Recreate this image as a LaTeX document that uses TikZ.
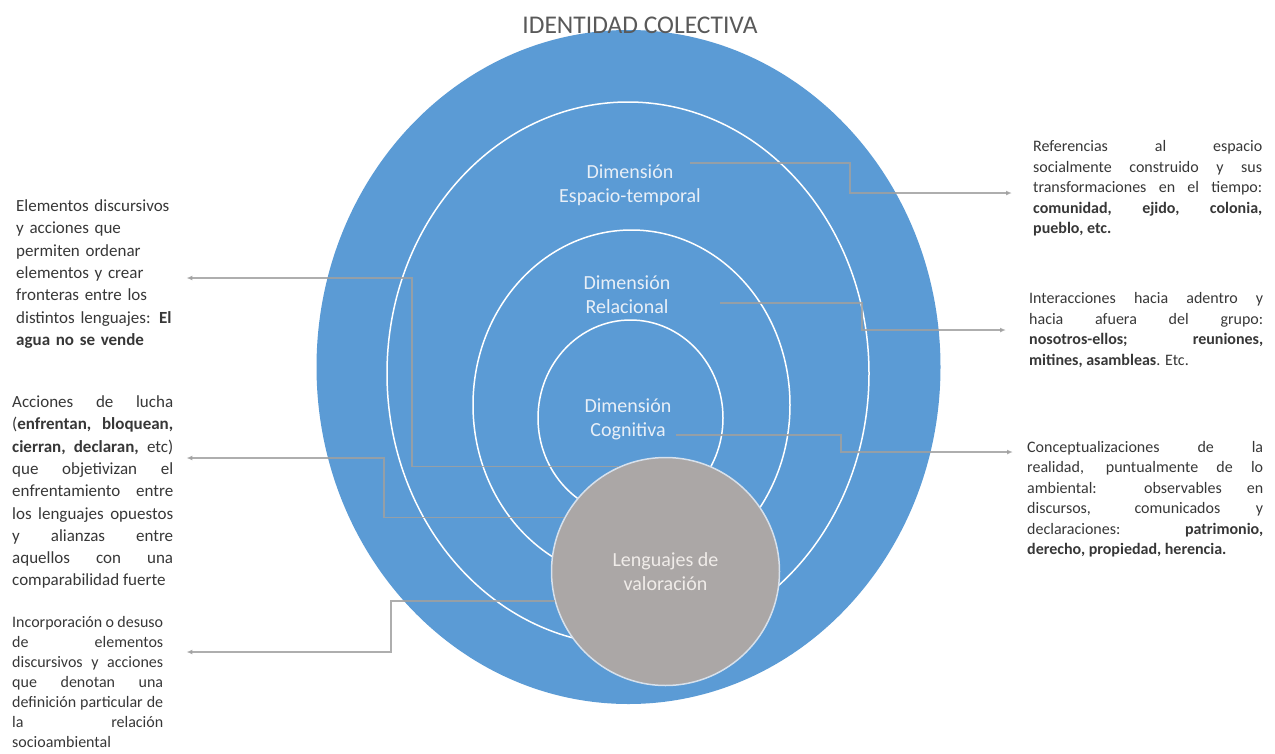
\documentclass[tikz,border=0pt]{standalone}
\usepackage{fontspec}
\setmainfont{Carlito}
\usetikzlibrary{arrows.meta}
\definecolor{ringblue}{RGB}{91,155,213}
\definecolor{langgray}{RGB}{171,167,166}
\definecolor{linegray}{RGB}{160,160,160}
\definecolor{textgray}{RGB}{55,55,55}
\definecolor{titlegray}{RGB}{89,89,89}
\definecolor{labelwhite}{RGB}{232,239,247}
\tolerance=10000
\hbadness=10000
\hyphenpenalty=10000

\begin{document}
\begin{tikzpicture}[x=1pt,y=1pt,
  ring/.style={draw=white, line width=1.5pt},
  dimlabel/.style={align=center, text=labelwhite, font=\fontsize{20}{24}\selectfont},
  desc/.style={anchor=base west, align=justify, text=textgray, font=\fontsize{16}{20.5}\selectfont},
  conn/.style={draw=linegray, opacity=0.85, line width=1.6pt, -{Latex[length=6pt,width=5pt]}}]
\tikzstyle{every node}+=[inner sep=0pt]
\useasboundingbox (0,0) rectangle (1275,-753);
\fill [ringblue] (628.5,-367) ellipse [x radius=312, y radius=337];
\draw [ring] (628,-373.5) ellipse [x radius=241, y radius=271.5];
\draw [ring] (631.5,-405) ellipse [x radius=158.5, y radius=175];
\draw [ring] (630.5,-418) ellipse [x radius=92.5, y radius=98];
\node [circle, fill=langgray, draw={rgb,255:red,215;green,225;blue,236}, line width=1.5pt, minimum size=228pt, align=center, text={rgb,255:red,240;green,236;blue,233}, font=\fontsize{20}{24}\selectfont] (lenguajes) at (665.5,-571.5) {Lenguajes de\\valoración};
\node [dimlabel] (espacio) at (630,-185) {Dimensión\\Espacio-temporal};
\node [dimlabel] (relacional) at (627,-295) {Dimensión\\Relacional};
\node [dimlabel] (cognitiva) at (628,-419) {Dimensión\\Cognitiva};
\node [text=titlegray, font=\fontsize{25.5}{30}\selectfont] (titulo) at (640,-25) {IDENTIDAD COLECTIVA};

\node [desc, align=left, text width=160pt, font=\fontsize{17}{22.3}\selectfont] (descFronteras) at (16,-211.5) {Elementos discursivos\\ y acciones que\\ permiten ordenar\\ elementos y crear\\ fronteras entre los\\ distintos lenguajes: \textbf{El}\\ \textbf{agua no se vende}};
\node [desc, text width=161pt, font=\fontsize{17}{22.3}\selectfont] (descLucha) at (12,-407.5) {Acciones de lucha\linebreak (\textbf{enfrentan, bloquean,}\linebreak \textbf{cierran, declaran,} etc)\linebreak que objetivizan el\linebreak enfrentamiento entre\linebreak los lenguajes opuestos\linebreak y alianzas entre\linebreak aquellos con una\linebreak comparabilidad fuerte};
\node [desc, text width=151pt, font=\fontsize{16}{20}\selectfont] (descIncorporacion) at (12,-627) {Incorporación o desuso\linebreak de elementos\linebreak discursivos y acciones\linebreak que denotan una\linebreak definición particular de\linebreak la relación\linebreak socioambiental};
\node [desc, text width=229pt] (descEspacio) at (1033,-151.5) {Referencias al espacio\linebreak socialmente construido y sus\linebreak transformaciones en el tiempo:\linebreak \textbf{comunidad, ejido, colonia,}\linebreak \textbf{pueblo, etc.}};
\node [desc, text width=234pt] (descRelacional) at (1029,-303.5) {Interacciones hacia adentro y\linebreak hacia afuera del grupo:\linebreak \textbf{nosotros-ellos;} \textbf{reuniones,}\linebreak \textbf{mitines, asambleas}. Etc.};
\node [desc, text width=236pt] (descCognitiva) at (1027,-452) {Conceptualizaciones de la\linebreak realidad, puntualmente de lo\linebreak ambiental: observables en\linebreak discursos, comunicados y\linebreak declaraciones: \textbf{patrimonio,}\linebreak \textbf{derecho, propiedad, herencia.}};

\coordinate (fromEspacio) at (690,-163);
\coordinate (bendEspacio) at (850,-193);
\coordinate (fromRelacional) at (720,-303);
\coordinate (bendRelacional) at (862,-330);
\coordinate (fromCognitiva) at (676,-435);
\coordinate (bendCognitiva) at (841,-452);
\coordinate (bendFronteras) at (412,-278);
\coordinate (bendLucha) at (384,-458);
\coordinate (bendIncorporacion) at (391,-652);
\draw [conn, shorten >=21pt] (fromEspacio) -| (bendEspacio) -- (bendEspacio -| descEspacio.west);
\draw [conn, shorten >=23pt] (fromRelacional) -| (bendRelacional) -- (bendRelacional -| descRelacional.west);
\draw [conn, shorten >=14pt] (fromCognitiva) -| (bendCognitiva) -- (bendCognitiva -| descCognitiva.west);
\draw [conn, shorten >=10pt] (lenguajes.114) -| (bendFronteras) -- (bendFronteras -| descFronteras.east);
\draw [conn, shorten >=13pt] (lenguajes.152) -| (bendLucha) -- (bendLucha -| descLucha.east);
\draw [conn, shorten >=23pt] (lenguajes.195) -| (bendIncorporacion) -- (bendIncorporacion -| descIncorporacion.east);
\end{tikzpicture}
\end{document}
